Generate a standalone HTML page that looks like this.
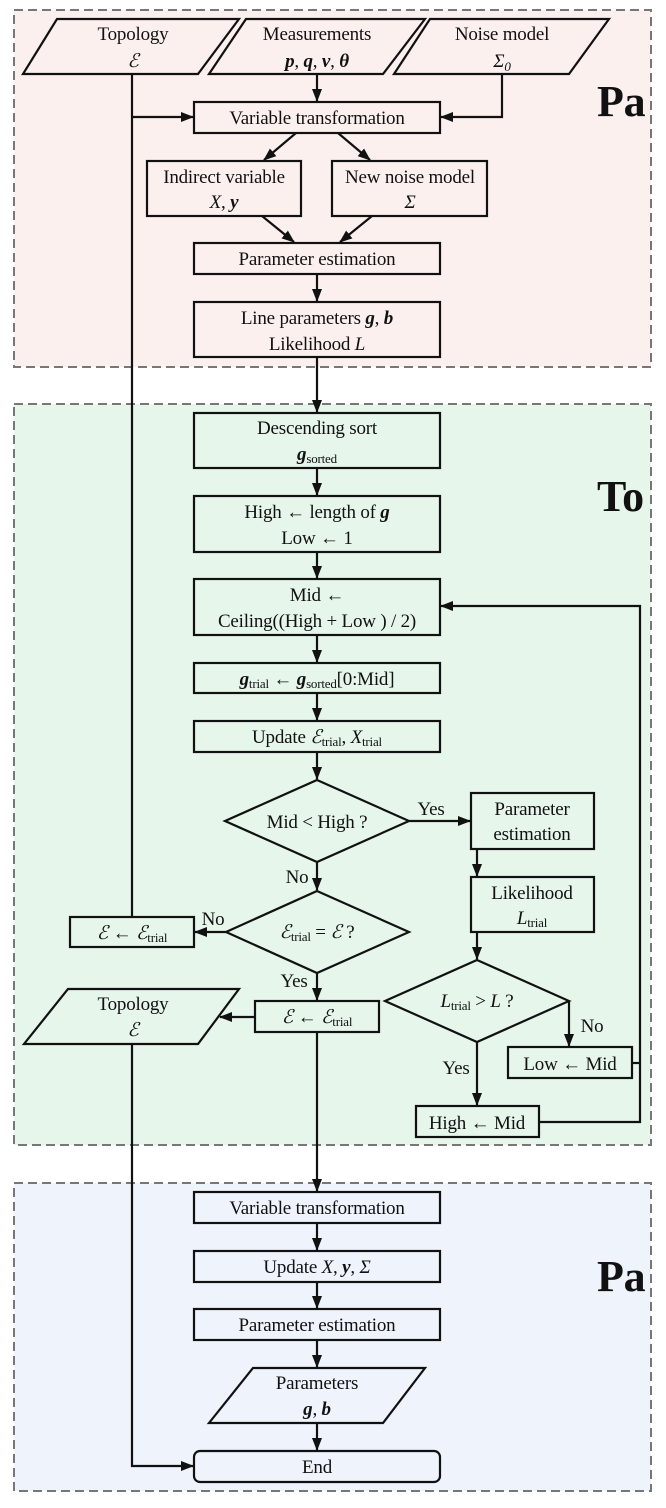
<!DOCTYPE html>
<html><head><meta charset="utf-8"><style>
html,body{margin:0;padding:0;background:#fff}
svg{display:block}
text{font-family:"Liberation Serif",serif;font-size:19px;fill:#111;letter-spacing:-0.2px}
.b{font-weight:bold;font-style:italic}
.i{font-style:italic}
.s{font-size:13px}
.big{font-size:44px;font-weight:bold}
</style></head><body>
<svg width="666" height="1508" viewBox="0 0 666 1508" xmlns="http://www.w3.org/2000/svg">
<defs><marker id="a" markerWidth="13" markerHeight="12" refX="12" refY="6" orient="auto" markerUnits="userSpaceOnUse"><path d="M0,1 L13,6 L0,11 Z" fill="#111"/></marker></defs>
<rect x="14" y="10" width="637" height="357" fill="#fcf0ef" stroke="#777" stroke-width="2" stroke-dasharray="9,5"/>
<rect x="14" y="404" width="637" height="741" fill="#e7f6eb" stroke="#777" stroke-width="2" stroke-dasharray="9,5"/>
<rect x="14" y="1183" width="637" height="308" fill="#eef3fc" stroke="#777" stroke-width="2" stroke-dasharray="9,5"/>
<text class="big" x="597" y="116">Pa</text>
<text class="big" x="597" y="511">To</text>
<text class="big" x="597" y="1291">Pa</text>

<g fill="none" stroke="#111" stroke-width="2.2">
<polygon points="57,19 239,19 198,74 23,74"/>
<polygon points="246,19 425,19 383,74 209,74"/>
<polygon points="430,19 609,19 569,74 394,74"/>
<rect x="194" y="102" width="246" height="31"/>
<rect x="147" y="161" width="154" height="55"/>
<rect x="332" y="161" width="155" height="55"/>
<rect x="194" y="243" width="246" height="31"/>
<rect x="194" y="302" width="246" height="55"/>
<rect x="194" y="413" width="246" height="55"/>
<rect x="194" y="496" width="246" height="56"/>
<rect x="194" y="579" width="246" height="56"/>
<rect x="194" y="663" width="246" height="30"/>
<rect x="194" y="721" width="246" height="31"/>
<polygon points="317,780 409,821 317,862 225,821"/>
<rect x="471" y="793" width="123" height="56"/>
<rect x="471" y="877" width="123" height="55"/>
<polygon points="317,891 409,932 317,973 226,932"/>
<rect x="70" y="917" width="124" height="30"/>
<rect x="255" y="1001" width="124" height="31"/>
<polygon points="68,989 239,989 198,1044 24,1044"/>
<polygon points="477,960 569,1001 477,1042 385,1001"/>
<rect x="508" y="1047" width="124" height="31"/>
<rect x="416" y="1106" width="123" height="31"/>
<rect x="194" y="1192" width="246" height="31"/>
<rect x="194" y="1251" width="246" height="31"/>
<rect x="194" y="1309" width="246" height="31"/>
<polygon points="253,1368 425,1368 383,1423 209,1423"/>
<rect x="194" y="1451" width="246" height="31" rx="6"/>

<path d="M317,74 V101" marker-end="url(#a)"/>
<path d="M132,117 H193" marker-end="url(#a)"/>
<path d="M502,74 V117 H441" marker-end="url(#a)"/>
<path d="M296,133 L264,160" marker-end="url(#a)"/>
<path d="M338,133 L370,160" marker-end="url(#a)"/>
<path d="M262,216 L294,242" marker-end="url(#a)"/>
<path d="M372,216 L340,242" marker-end="url(#a)"/>
<path d="M317,274 V301" marker-end="url(#a)"/>
<path d="M317,357 V412" marker-end="url(#a)"/>
<path d="M132,74 V917"/>
<path d="M317,468 V495" marker-end="url(#a)"/>
<path d="M317,552 V578" marker-end="url(#a)"/>
<path d="M317,635 V662" marker-end="url(#a)"/>
<path d="M317,693 V720" marker-end="url(#a)"/>
<path d="M317,752 V779" marker-end="url(#a)"/>
<path d="M409,821 H470" marker-end="url(#a)"/>
<path d="M317,862 V890" marker-end="url(#a)"/>
<path d="M226,932 H195" marker-end="url(#a)"/>
<path d="M317,973 V1000" marker-end="url(#a)"/>
<path d="M255,1017 H220" marker-end="url(#a)"/>
<path d="M477,849 V876" marker-end="url(#a)"/>
<path d="M477,932 V959" marker-end="url(#a)"/>
<path d="M569,1001 V1046" marker-end="url(#a)"/>
<path d="M477,1042 V1105" marker-end="url(#a)"/>
<path d="M632,1063 H640"/>
<path d="M539,1122 H640 V606 H441" marker-end="url(#a)"/>
<path d="M317,1032 V1191" marker-end="url(#a)"/>
<path d="M132,1044 V1466 H193" marker-end="url(#a)"/>
<path d="M317,1223 V1250" marker-end="url(#a)"/>
<path d="M317,1282 V1308" marker-end="url(#a)"/>
<path d="M317,1340 V1367" marker-end="url(#a)"/>
<path d="M317,1423 V1450" marker-end="url(#a)"/>
</g>

<g text-anchor="middle">
<text x="133" y="40">Topology</text>
<text x="133" y="67" class="i">ℰ</text>
<text x="317" y="40">Measurements</text>
<text x="317" y="67"><tspan class="b">p</tspan>, <tspan class="b">q</tspan>, <tspan class="b">v</tspan>, <tspan class="b">θ</tspan></text>
<text x="502" y="40">Noise model</text>
<text x="502" y="67" class="i">Σ<tspan class="s" dy="4">0</tspan></text>
<text x="317" y="124">Variable transformation</text>
<text x="224" y="183">Indirect variable</text>
<text x="224" y="208"><tspan class="i">X</tspan>, <tspan class="b">y</tspan></text>
<text x="410" y="183">New noise model</text>
<text x="410" y="208" class="i">Σ</text>
<text x="317" y="265">Parameter estimation</text>
<text x="317" y="324">Line parameters <tspan class="b">g</tspan>, <tspan class="b">b</tspan></text>
<text x="317" y="350">Likelihood <tspan class="i">L</tspan></text>

<text x="317" y="434">Descending sort</text>
<text x="317" y="460"><tspan class="b">g</tspan><tspan class="s" dy="3">sorted</tspan></text>
<text x="317" y="518">High ← length of <tspan class="b">g</tspan></text>
<text x="317" y="544">Low ← 1</text>
<text x="317" y="601">Mid ←</text>
<text x="317" y="627">Ceiling((High + Low ) / 2)</text>
<text x="317" y="685"><tspan class="b">g</tspan><tspan class="s" dy="3">trial</tspan><tspan dy="-3"> ← </tspan><tspan class="b">g</tspan><tspan class="s" dy="3">sorted</tspan><tspan dy="-3">[0:Mid]</tspan></text>
<text x="317" y="743">Update <tspan class="i">ℰ</tspan><tspan class="s" dy="3">trial</tspan><tspan dy="-3">, </tspan><tspan class="i">X</tspan><tspan class="s" dy="3">trial</tspan></text>
<text x="317" y="828">Mid &lt; High ?</text>
<text x="532" y="815">Parameter</text>
<text x="532" y="840">estimation</text>
<text x="532" y="899">Likelihood</text>
<text x="532" y="924"><tspan class="i">L</tspan><tspan class="s" dy="3">trial</tspan></text>
<text x="317" y="938"><tspan class="i">ℰ</tspan><tspan class="s" dy="3">trial</tspan><tspan dy="-3"> = </tspan><tspan class="i">ℰ</tspan> ?</text>
<text x="132" y="939"><tspan class="i">ℰ</tspan> ← <tspan class="i">ℰ</tspan><tspan class="s" dy="3">trial</tspan></text>
<text x="317" y="1023"><tspan class="i">ℰ</tspan> ← <tspan class="i">ℰ</tspan><tspan class="s" dy="3">trial</tspan></text>
<text x="133" y="1010">Topology</text>
<text x="133" y="1036" class="i">ℰ</text>
<text x="477" y="1007"><tspan class="i">L</tspan><tspan class="s" dy="3">trial</tspan><tspan dy="-3"> &gt; </tspan><tspan class="i">L</tspan> ?</text>
<text x="570" y="1070">Low ← Mid</text>
<text x="477" y="1129">High ← Mid</text>
<text x="431" y="815">Yes</text>
<text x="297" y="883">No</text>
<text x="213" y="925">No</text>
<text x="294" y="987">Yes</text>
<text x="592" y="1032">No</text>
<text x="456" y="1074">Yes</text>

<text x="317" y="1214">Variable transformation</text>
<text x="317" y="1273">Update <tspan class="i">X</tspan>, <tspan class="b">y</tspan>, <tspan class="i">Σ</tspan></text>
<text x="317" y="1331">Parameter estimation</text>
<text x="317" y="1389">Parameters</text>
<text x="317" y="1415"><tspan class="b">g</tspan>, <tspan class="b">b</tspan></text>
<text x="317" y="1473">End</text>
</g>
</svg>
</body></html>
